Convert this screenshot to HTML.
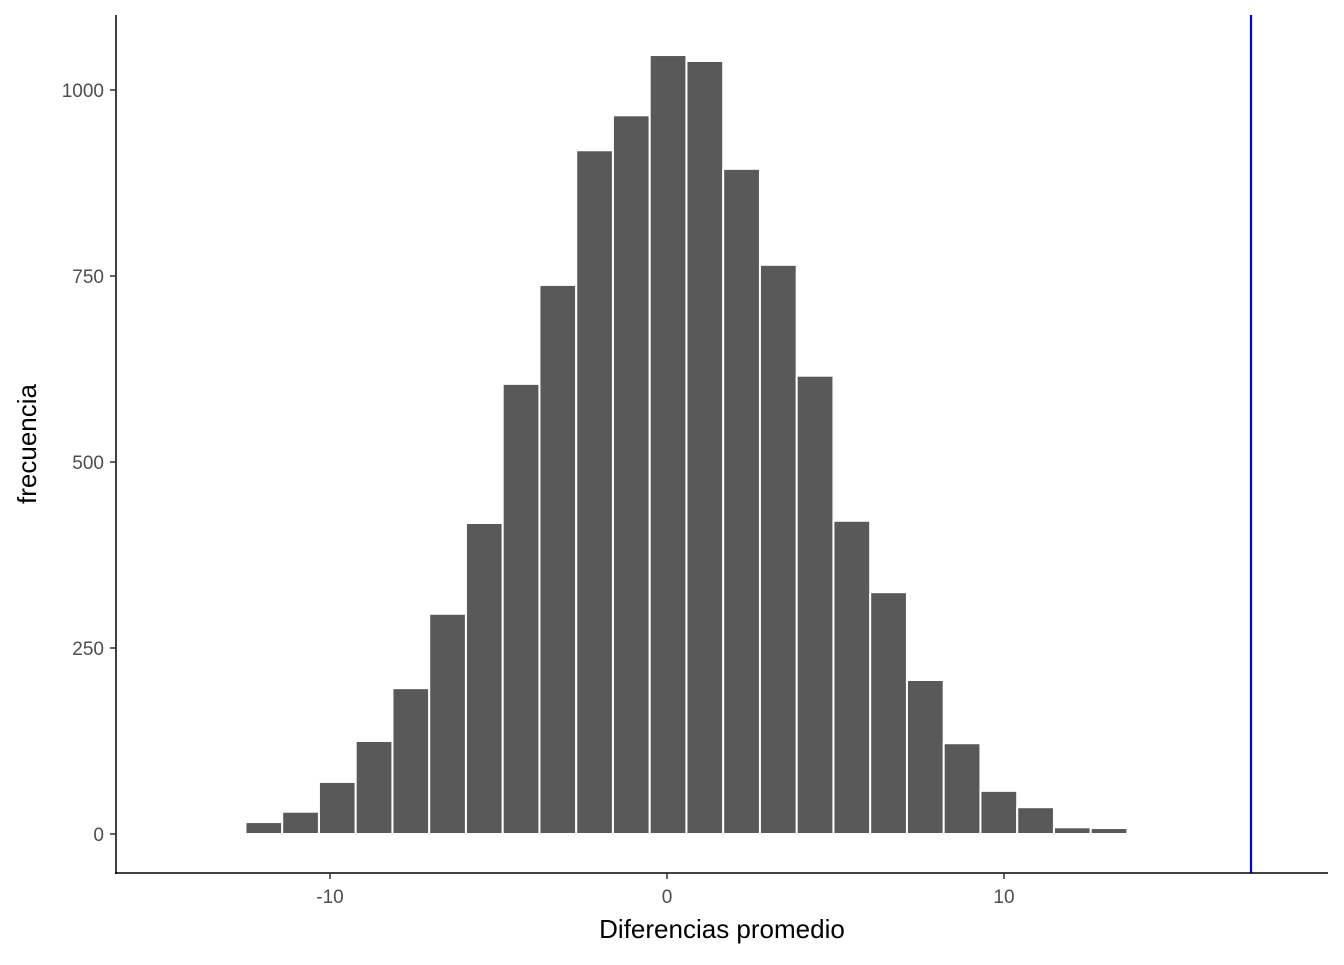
<!DOCTYPE html>
<html><head><meta charset="utf-8"><style>
html,body{margin:0;padding:0;background:#fff;}
text{font-family:"Liberation Sans",sans-serif;}
</style></head><body>
<svg id="chart" width="1344" height="960" xmlns="http://www.w3.org/2000/svg">
<g id="bars"></g>
<g id="axes"></g>
</svg>
<script>
const counts = [1,0,16,30,70,125,196,296,418,605,738,919,966,1047,1039,894,765,616,421,325,207,122,58,36,9,8];
const binStart = -14.69;
const binWidth = 1.0905;
const xTicks = [-10,0,10];
const yTicks = [0,250,500,750,1000];
const refLine = 17.33;

const NS="http://www.w3.org/2000/svg";
const xs = v => 667 + v*33.7;
const ys = v => 834 - v*0.744;
function mk(tag, attrs, parent){const e=document.createElementNS(NS,tag);for(const k in attrs)e.setAttribute(k,attrs[k]);parent.appendChild(e);return e;}
const bars=document.getElementById('bars'), axes=document.getElementById('axes');
counts.forEach((c,i)=>{
  if(c<=0) return;
  const x0=xs(binStart+i*binWidth), x1=xs(binStart+(i+1)*binWidth);
  const r=mk('rect',{x:x0,y:ys(c),width:x1-x0,height:ys(0)-ys(c),fill:'#595959',stroke:'#fff','stroke-width':2},bars);
  
  
});
const vl=mk('line',{x1:xs(refLine),x2:xs(refLine),y1:15,y2:873,stroke:'#0000ff','stroke-width':2.2},axes);


const ya=mk('line',{x1:116,x2:116,y1:15,y2:874,stroke:'#000','stroke-width':1.5},axes);


const xa=mk('line',{x1:115,x2:1328,y1:873,y2:873,stroke:'#000','stroke-width':1.5},axes);


yTicks.forEach(v=>{
  mk('line',{x1:110,x2:116,y1:ys(v),y2:ys(v),stroke:'#333','stroke-width':1.5},axes);
  const t=mk('text',{x:104,y:ys(v)+7,'text-anchor':'end','font-size':19,fill:'#4d4d4d'},axes);
  t.textContent=v;
  
  
});
xTicks.forEach(v=>{
  mk('line',{x1:xs(v),x2:xs(v),y1:873,y2:879,stroke:'#333','stroke-width':1.5},axes);
  const t=mk('text',{x:xs(v),y:903,'text-anchor':'middle','font-size':19,fill:'#4d4d4d'},axes);
  t.textContent=v;
  
  
});
const xt=mk('text',{x:722,y:938,'text-anchor':'middle','font-size':26,fill:'#000'},axes);
xt.textContent='Diferencias promedio';


const yt=mk('text',{x:0,y:0,transform:'translate(36,444) rotate(-90)','text-anchor':'middle','font-size':26,fill:'#000'},axes);
yt.textContent='frecuencia';


</script>
</body></html>
